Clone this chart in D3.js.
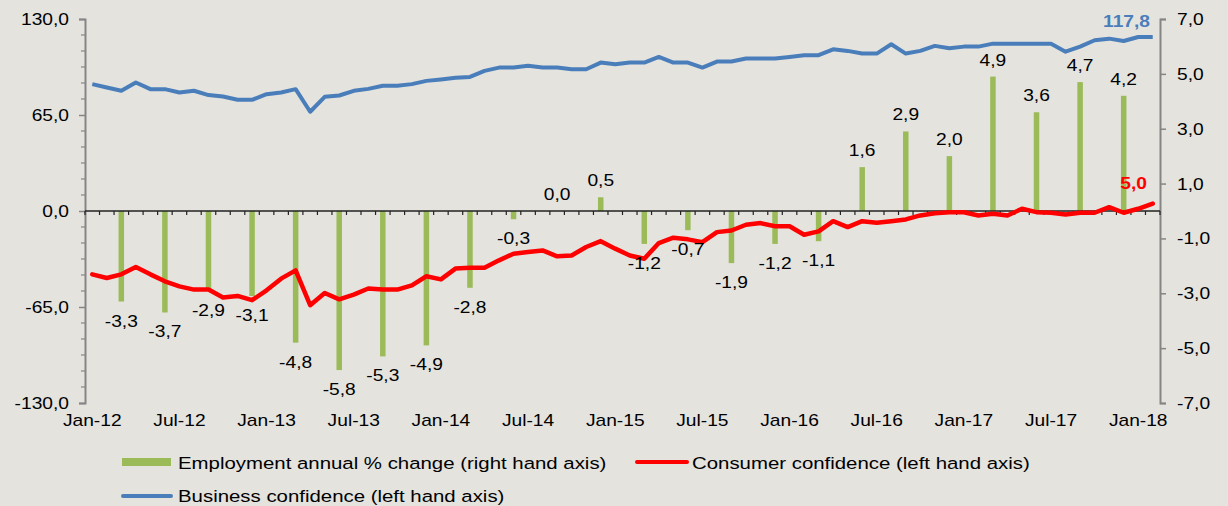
<!DOCTYPE html>
<html>
<head>
<meta charset="utf-8">
<script src="https://cdn.jsdelivr.net/npm/d3@7"></script>
<style>
html,body{margin:0;padding:0;background:#e4e3de;}
svg{display:block;}
</style>
</head>
<body>
<svg id="chart" width="1228" height="506"></svg>
<script>
const months = ["Jan-12","Feb-12","Mar-12","Apr-12","May-12","Jun-12","Jul-12","Aug-12","Sep-12","Oct-12","Nov-12","Dec-12",
"Jan-13","Feb-13","Mar-13","Apr-13","May-13","Jun-13","Jul-13","Aug-13","Sep-13","Oct-13","Nov-13","Dec-13",
"Jan-14","Feb-14","Mar-14","Apr-14","May-14","Jun-14","Jul-14","Aug-14","Sep-14","Oct-14","Nov-14","Dec-14",
"Jan-15","Feb-15","Mar-15","Apr-15","May-15","Jun-15","Jul-15","Aug-15","Sep-15","Oct-15","Nov-15","Dec-15",
"Jan-16","Feb-16","Mar-16","Apr-16","May-16","Jun-16","Jul-16","Aug-16","Sep-16","Oct-16","Nov-16","Dec-16",
"Jan-17","Feb-17","Mar-17","Apr-17","May-17","Jun-17","Jul-17","Aug-17","Sep-17","Oct-17","Nov-17","Dec-17",
"Jan-18","Feb-18"];

const businessConfidence = [85.9,83.6,81.4,87.0,82.5,82.5,80.2,81.4,78.5,77.5,75.3,75.3,
79.1,80.2,82.5,67.2,77.3,78.2,81.4,82.7,84.8,84.8,85.9,88.1,
89.1,90.2,90.8,94.9,97.1,97.1,98.3,97.1,97.1,96.0,96.0,100.5,
99.4,100.5,100.5,104.3,100.5,100.5,97.1,101.2,101.2,103.2,103.2,103.2,
104.3,105.5,105.5,109.5,108.4,106.6,106.6,112.9,106.6,108.4,111.8,110.2,
111.3,111.3,113.3,113.3,113.3,113.3,113.3,107.9,111.3,115.6,116.7,115.1,
117.8,117.8];

const consumerConfidence = [-42.9,-45.4,-42.9,-37.9,-42.9,-47.6,-51.0,-53.2,-53.2,-58.6,-57.5,-60.4,
-53.7,-45.8,-40.2,-63.8,-55.5,-59.8,-56.6,-52.5,-53.2,-53.2,-50.3,-44.2,
-46.3,-39.0,-38.4,-38.4,-33.4,-28.9,-27.8,-26.7,-30.7,-30.1,-24.4,-20.4,
-25.5,-30.1,-32.3,-21.7,-18.1,-19.2,-21.1,-14.3,-13.2,-9.3,-8.2,-10.3,
-10.3,-16.1,-13.8,-6.9,-10.9,-6.9,-8.0,-6.9,-5.7,-3.0,-1.5,-0.8,
-0.8,-3.0,-1.9,-3.0,1.5,-0.8,-1.2,-2.4,-1.2,-1.2,2.6,-1.2,
1.5,5.0];

const employmentMonths = ["Mar-12","Jun-12","Sep-12","Dec-12","Mar-13","Jun-13","Sep-13","Dec-13",
"Mar-14","Jun-14","Sep-14","Dec-14","Mar-15","Jun-15","Sep-15","Dec-15",
"Mar-16","Jun-16","Sep-16","Dec-16","Mar-17","Jun-17","Sep-17","Dec-17"];
const employmentChange = [-3.3,-3.7,-2.9,-3.1,-4.8,-5.8,-5.3,-4.9,-2.8,-0.3,0.0,0.5,
-1.2,-0.7,-1.9,-1.2,-1.1,1.6,2.9,2.0,4.9,3.6,4.7,4.2];

const leftTicks = [-130,-65,0,65,130];
const rightTicks = [-7,-5,-3,-1,1,3,5,7];
const xLabels = ["Jan-12","Jul-12","Jan-13","Jul-13","Jan-14","Jul-14","Jan-15","Jul-15","Jan-16","Jul-16","Jan-17","Jul-17","Jan-18"];

const legendItems = ["Employment annual % change (right hand axis)","Consumer confidence (left hand axis)","Business confidence (left hand axis)"];

const C = {green:"#9bbb59", red:"#ff0000", blue:"#4a7ebb", axis:"#858585", text:"#000"};
const FONT = "'Liberation Sans', Arial, sans-serif";
const SX = 1.2;

const svg = d3.select("#chart");
const L = 85, R = 1160, T = 19, B = 403;

const x = d3.scaleBand().domain(months).range([L, R]).paddingInner(0).paddingOuter(0);
const yL = d3.scaleLinear().domain([-130,130]).range([B, T]);
const yR = d3.scaleLinear().domain([-7,7]).range([B, T]);
const cx = m => x(m) + x.bandwidth()/2;
const fmt = v => d3.format(".1f")(v).replace(".", ",").replace("−","-");

function txt(g, s, px, py, o = {}) {
  return g.append("text")
    .attr("transform", `translate(${px},${py}) scale(${o.sx || SX},1)`)
    .attr("text-anchor", o.anchor || "middle")
    .style("font-family", FONT)
    .style("font-size", (o.size || 16) + "px")
    .style("font-weight", o.weight || "normal")
    .style("fill", o.fill || C.text)
    .text(s);
}

// Left axis
const gL = svg.append("g").attr("transform", `translate(${L},0)`)
  .call(d3.axisLeft(yL).tickValues(leftTicks).tickSize(6).tickFormat(""));
gL.select(".domain").attr("stroke", C.axis).attr("stroke-width", 2);
gL.selectAll(".tick line").attr("stroke", C.axis).attr("stroke-width", 1.5);
// minor ticks
const minor = d3.range(-130, 130.001, 65/6).filter(v => !leftTicks.some(t => Math.abs(t - v) < 0.01));
svg.append("g").selectAll("line").data(minor).join("line")
  .attr("x1", L - 4).attr("x2", L).attr("y1", d => yL(d)).attr("y2", d => yL(d))
  .attr("stroke", C.axis).attr("stroke-width", 1.2);
const gLt = svg.append("g");
leftTicks.forEach(v => txt(gLt, fmt(v), 69, yL(v) + 6, {anchor: "end"}));

// Right axis
const gR = svg.append("g").attr("transform", `translate(${R},0)`)
  .call(d3.axisRight(yR).tickValues(rightTicks).tickSize(6).tickFormat(""));
gR.select(".domain").attr("stroke", C.axis).attr("stroke-width", 2);
gR.selectAll(".tick line").attr("stroke", C.axis).attr("stroke-width", 1.5);
const gRt = svg.append("g");
rightTicks.forEach(v => txt(gRt, fmt(v), 1177, yR(v) + 6, {anchor: "start"}));

// Bars
const barW = 5.5;
svg.append("g").selectAll("rect").data(employmentChange).join("rect")
  .attr("x", (d, i) => cx(employmentMonths[i]) - barW/2)
  .attr("width", barW)
  .attr("y", d => Math.min(yR(d), yR(0)))
  .attr("height", d => Math.abs(yR(d) - yR(0)))
  .attr("fill", C.green);

// X axis line at zero with monthly ticks at boundaries
const y0 = yL(0);
svg.append("line").attr("x1", L).attr("x2", R).attr("y1", y0).attr("y2", y0)
  .attr("stroke", "#222").attr("stroke-width", 1.5);
const bounds = months.map(m => x(m)).concat([R]);
svg.append("g").selectAll("line").data(bounds).join("line")
  .attr("x1", d => d).attr("x2", d => d).attr("y1", y0).attr("y2", y0 + 4)
  .attr("stroke", "#222").attr("stroke-width", 1.2);

// Lines
const line = arr => d3.line().x((d, i) => cx(months[i])).y(d => yL(d))(arr);
svg.append("path").attr("d", line(businessConfidence)).attr("fill", "none")
  .attr("stroke", C.blue).attr("stroke-width", 4).attr("stroke-linejoin", "round");
svg.append("path").attr("d", line(consumerConfidence)).attr("fill", "none")
  .attr("stroke", C.red).attr("stroke-width", 4.5).attr("stroke-linejoin", "round").attr("stroke-linecap", "round");

// Bar labels
const gBL = svg.append("g");
employmentChange.forEach((v, i) => {
  const px = cx(employmentMonths[i]);
  const py = v < 0 ? yR(v) + 25 : yR(v) - 11;
  txt(gBL, fmt(v), px, py);
});

// End labels
const nB = businessConfidence.length - 1, nC = consumerConfidence.length - 1;
txt(svg, fmt(businessConfidence[nB]), 1150, 27, {anchor: "end", weight: "bold", fill: C.blue});
txt(svg, fmt(consumerConfidence[nC]), 1147, 189, {anchor: "end", weight: "bold", fill: C.red});

// X labels
const gX = svg.append("g");
xLabels.forEach(m => txt(gX, m, cx(m), 426));

// Legend
const lg = svg.append("g");
lg.append("rect").attr("x", 122).attr("y", 458).attr("width", 49).attr("height", 8).attr("fill", C.green);
txt(lg, legendItems[0], 178, 469, {anchor: "start", size: 17});
lg.append("line").attr("x1", 637).attr("x2", 687).attr("y1", 462).attr("y2", 462)
  .attr("stroke", C.red).attr("stroke-width", 4).attr("stroke-linecap", "round");
txt(lg, legendItems[1], 692, 469, {anchor: "start", size: 17});
lg.append("line").attr("x1", 123).attr("x2", 171).attr("y1", 496).attr("y2", 496)
  .attr("stroke", C.blue).attr("stroke-width", 4).attr("stroke-linecap", "round");
txt(lg, legendItems[2], 178, 502, {anchor: "start", size: 17});
</script>
</body>
</html>
